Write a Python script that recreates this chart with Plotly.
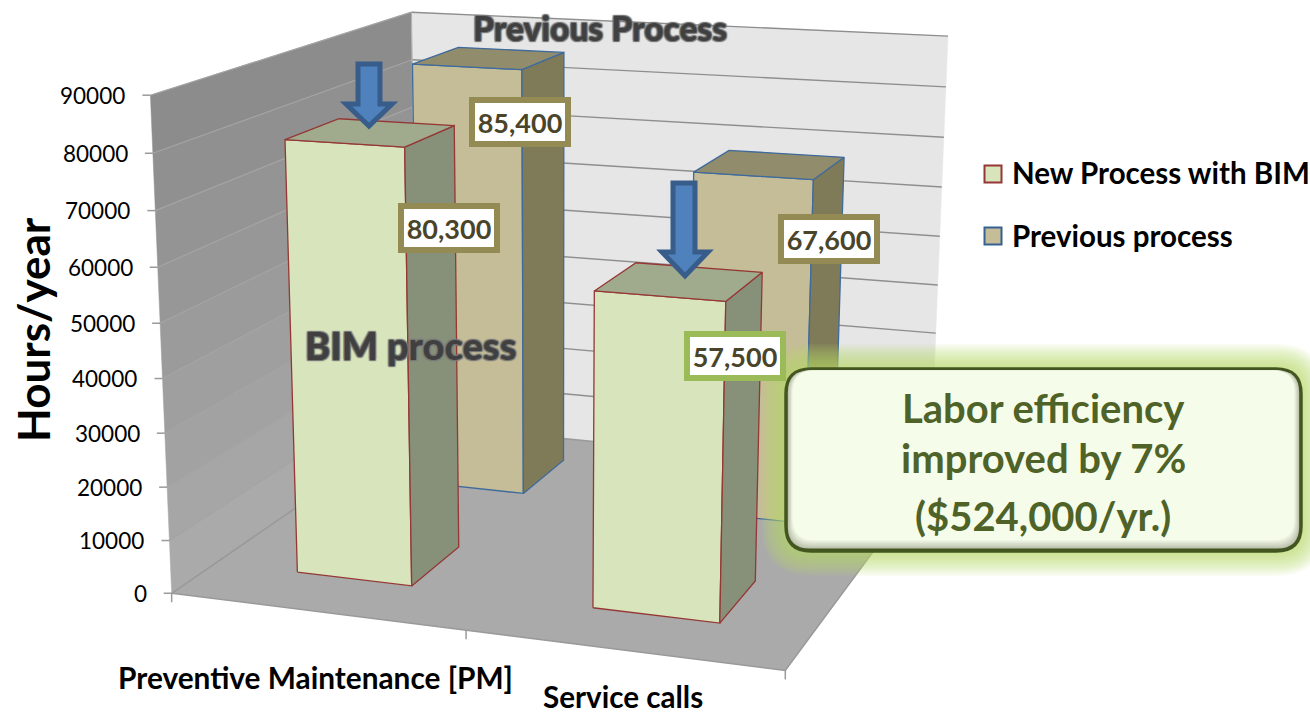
import numpy as np
import plotly.graph_objects as go

categories = ["Preventive Maintenance [PM]", "Service calls"]
series_names = ["New Process with BIM", "Previous process"]
new_process = [80300, 57500]
previous_process = [85400, 67600]
value_ticks = [0, 10000, 20000, 30000, 40000, 50000, 60000, 70000, 80000, 90000]
VMAX = 90000
FONT = "Lato"

# Projection of the 3-D chart box (category x 0-2, depth 0-1, value) onto the page
frame = [((0,0,0),(172,590)),((1,0,0),(465,632)),((2,0,0),(787,672)),((2,1,0),(929,472)),
         ((0,1,0),(418,428)),((0,0,VMAX),(150,98)),((0,1,VMAX),(412,10)),((2,1,VMAX),(948,37)),
         ((0,0,40000),(162,376))]
A = []; b = []
for (x, d, v), (px, py) in frame:
    X = [x/2, d, v/VMAX, 1]
    A.append(X + [0,0,0,0] + [-px*t for t in X[:3]]); b.append(px)
    A.append([0,0,0,0] + X + [-py*t for t in X[:3]]); b.append(py)
sol = np.linalg.lstsq(np.array(A, float), np.array(b, float), rcond=None)[0]
P = np.append(sol, 1).reshape(3, 4)

def proj(x, d, v):
    h = P @ np.array([x/2, d, v/VMAX, 1.0])
    return float(h[0]/h[2]), float(h[1]/h[2])

def lerp_col(c1, c2, t):
    return "rgb(%d,%d,%d)" % tuple(round(a+(b_-a)*t) for a, b_ in zip(c1, c2))

fig = go.Figure()

def poly(pts, fill, line=None, width=1.0):
    xs = [p[0] for p in pts] + [pts[0][0]]
    ys = [p[1] for p in pts] + [pts[0][1]]
    fig.add_trace(go.Scatter(x=xs, y=ys, mode="lines", fill="toself", fillcolor=fill,
                             line=dict(color=line or fill, width=width), hoverinfo="skip", showlegend=False))

def seg(p, q, color, width=1.2):
    fig.add_trace(go.Scatter(x=[p[0], q[0]], y=[p[1], q[1]], mode="lines",
                             line=dict(color=color, width=width), hoverinfo="skip", showlegend=False))

# left wall, shaded in strips between the gridlines
for i in range(len(value_ticks)-1):
    v0, v1 = value_ticks[i], value_ticks[i+1]
    col = lerp_col((170,170,170), (140,140,140), i/8)
    poly([proj(0,0,v0), proj(0,1,v0), proj(0,1,v1), proj(0,0,v1)], col, width=0.5)
# back wall and floor
poly([proj(0,1,0), proj(2,1,0), proj(2,1,VMAX), proj(0,1,VMAX)], "#e6e6e6", width=0.5)
poly([proj(0,0,0), proj(2,0,0), proj(2,1,0), proj(0,1,0)], "#aaaaaa", line="#999999", width=1.5)
# gridlines and ticks
for v in value_ticks:
    if v:
        seg(proj(0,0,v), proj(0,1,v), "#a4a4a4", 1.2)
        seg(proj(0,1,v), proj(2,1,v), "#8e8e8e", 1.4)
    p = proj(0,0,v)
    seg((p[0]-8, p[1]), p, "#9a9a9a", 1.5)
seg(proj(0,1,VMAX), proj(0,1,0), "#b0b0b0", 1)
for x in (0, 1, 2):
    p = proj(x,0,0)
    seg(p, (p[0], p[1]+9), "#9a9a9a", 1.5)

# bars
BAR_X = [(0.29, 0.69), (1.30, 1.71)]
NEW_D = (0.155, 0.355)
PREV_D = (0.66, 0.87)

def bar(xr, dr, val, front, side, top, edge):
    x0, x1 = xr; d0, d1 = dr
    poly([proj(x0,d0,0), proj(x1,d0,0), proj(x1,d0,val), proj(x0,d0,val)], front, edge, 1.3)
    poly([proj(x1,d0,0), proj(x1,d1,0), proj(x1,d1,val), proj(x1,d0,val)], side, edge, 1.3)
    poly([proj(x0,d0,val), proj(x1,d0,val), proj(x1,d1,val), proj(x0,d1,val)], top, edge, 1.3)

for i in range(2):
    bar(BAR_X[i], PREV_D, previous_process[i], "#c4bd97", "#7f7b59", "#918c6b", "#3f6a9c")
for i in range(2):
    bar(BAR_X[i], NEW_D, new_process[i], "#d8e4bc", "#879079", "#a0ab8d", "#953735")

# legend swatches with their labels
for name, yy, fc, lc in [(series_names[0], 174, "#d8e4bc", "#953735"), (series_names[1], 236, "#c4bd97", "#376092")]:
    fig.add_trace(go.Scatter(x=[993], y=[yy], mode="markers", name=name, hoverinfo="skip", showlegend=False,
                             marker=dict(symbol="square", size=17, color=fc, line=dict(color=lc, width=2))))

def rrect(x0, y0, x1, y1, r):
    return (f"M{x0+r},{y0} L{x1-r},{y0} Q{x1},{y0} {x1},{y0+r} L{x1},{y1-r} Q{x1},{y1} {x1-r},{y1} "
            f"L{x0+r},{y1} Q{x0},{y1} {x0},{y1-r} L{x0},{y0+r} Q{x0},{y0} {x0+r},{y0} Z")

shapes = []
def arrow(x0, x1, hx0, hx1, top, neck, tip):
    cx = (hx0+hx1)/2
    shapes.append(dict(type="path", xref="x", yref="y", layer="above", fillcolor="#4f81bd",
                       line=dict(color="#385d8a", width=5),
                       path=f"M{x0},{top} L{x1},{top} L{x1},{neck} L{hx1},{neck} L{cx},{tip} L{hx0},{neck} L{x0},{neck} Z"))
arrow(358, 380, 346, 392, 64, 104, 126)
arrow(673, 695, 662, 708, 183, 252, 276)

# callout glow, bevel and body
BX0, BY0, BX1, BY1 = 787, 370, 1300, 550
for e in range(26, 0, -2):
    shapes.append(dict(type="path", xref="x", yref="y", layer="above", fillcolor="rgba(184,226,100,0.085)",
                       line=dict(width=0), path=rrect(BX0-e, BY0-e, BX1+e, BY1+e, 24+e)))
shapes.append(dict(type="path", xref="x", yref="y", layer="above", fillcolor="#b4b8a4",
                   line=dict(color="#445620", width=5.5), path=rrect(BX0, BY0, BX1, BY1, 24)))
for k in range(1, 8):
    t = k/7
    shapes.append(dict(type="path", xref="x", yref="y", layer="above",
                       fillcolor=lerp_col((180,184,164), (245,253,234), t), line=dict(width=0),
                       path=rrect(BX0+k*0.8, BY0+0.5, BX1-k*0.8, BY1-k*1.4, 22)))

ann = []
def text(x, y, s, size, color="#000000", bold=True, anchor="center", **kw):
    ann.append(dict(x=x, y=y, xref="x", yref="y", text=s, showarrow=False, xanchor=anchor, yanchor="middle",
                    font=dict(family=FONT, size=size, color=color, weight=700 if bold else 400), **kw))

for v in value_ticks:
    p = proj(0,0,v)
    text(p[0]-23, p[1], str(v), 22.5, bold=False, anchor="right")
text(33, 330, "Hours/year", 44, textangle=-90)
text(315, 677, categories[0], 29.8)
text(623, 696, categories[1], 29.6)
text(1010, 172, series_names[0], 29.5, anchor="left")
text(1010, 235, series_names[1], 29.5, anchor="left")

sh = "1px 1px 1px #777777, -1px -1px 1px #777777, 1px -1px 1px #777777, -1px 1px 1px #777777"
for x, y, s, size in [(600, 28, "Previous Process", 33.5), (410, 345, "BIM process", 38)]:
    ann.append(dict(x=x, y=y, xref="x", yref="y", text=s, showarrow=False,
                    font=dict(family=FONT, size=size, color="#404040", weight=900, shadow=sh)))

for cx, cy, val, bc in [(520, 122, previous_process[0], "#948a54"), (449, 228, new_process[0], "#948a54"),
                        (829, 239, previous_process[1], "#948a54"), (735, 356, new_process[1], "#9bbb59")]:
    ann.append(dict(x=cx, y=cy, xref="x", yref="y", text=f"{val:,}", showarrow=False, bgcolor="#ffffff",
                    bordercolor=bc, borderwidth=6, width=88, height=36,
                    font=dict(family=FONT, size=27, color="#4a452a", weight=700)))

text(1043, 408, "Labor efficiency", 40, "#4f6228")
text(1043, 458, "improved by 7%", 40, "#4f6228")
text(1043, 516, "($524,000/yr.)", 40, "#4f6228")

fig.update_layout(width=1310, height=714, margin=dict(l=0, r=0, t=0, b=0), showlegend=False,
                  paper_bgcolor="#ffffff", plot_bgcolor="#ffffff", shapes=shapes, annotations=ann,
                  xaxis=dict(range=[0, 1310], visible=False, fixedrange=True),
                  yaxis=dict(range=[714, 0], visible=False, fixedrange=True))
fig.write_html("out.html", config=dict(displayModeBar=False),
               post_script="document.body.style.margin='0';document.body.style.overflow='hidden';")
